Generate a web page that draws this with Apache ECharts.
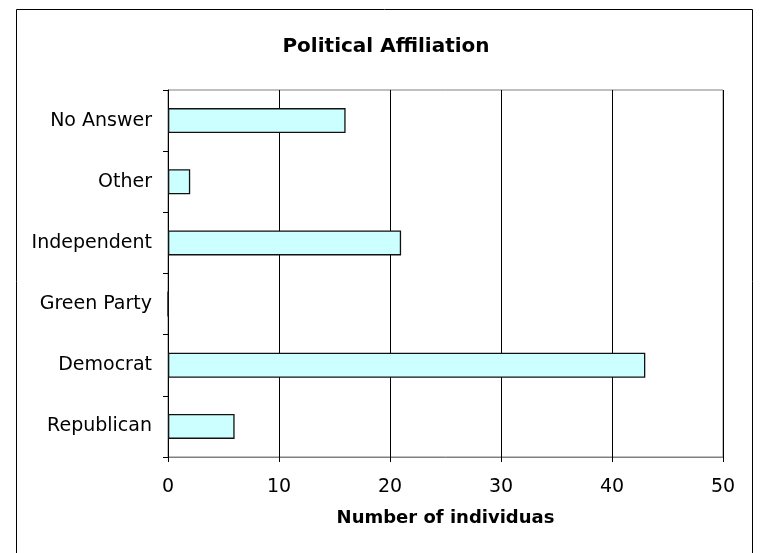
<!DOCTYPE html>
<html><head><meta charset="utf-8">
<script src="https://cdn.jsdelivr.net/npm/echarts@6/dist/echarts.min.js"></script>
<style>html,body{margin:0;padding:0;background:#fff}#c{width:761px;height:553px}</style>
</head><body><div id="c"></div>
<script>
const categories = ["Republican","Democrat","Green Party","Independent","Other","No Answer"];
const values = [6,43,0,21,2,16];
const xTicks = {min:0,max:50,interval:10};
const titleText = "Political Affiliation";
const xAxisName = "Number of individuas";

const chart = echarts.init(document.getElementById('c'), null, {renderer:'canvas'});
const font = '"DejaVu Sans", sans-serif';
chart.setOption({
  animation:false,
  backgroundColor:'#fff',
  title:{text:titleText,left:381,textAlign:'center',top:32,
    textStyle:{fontFamily:font,fontSize:20,fontWeight:'bold',color:'#000'}},
  graphic:[{type:'rect',shape:{x:16.5,y:9.5,width:736,height:600},
    style:{fill:'none',stroke:'#000',lineWidth:1},silent:true,z:-1}],
  grid:{left:168,top:90,right:38,bottom:96,show:true,borderColor:'#808080',borderWidth:1,backgroundColor:'transparent'},
  xAxis:{type:'value',min:xTicks.min,max:xTicks.max,interval:xTicks.interval,
    name:xAxisName,nameLocation:'middle',nameGap:52,
    nameTextStyle:{fontFamily:font,fontSize:18,fontWeight:'bold',color:'#000'},
    axisLine:{show:true,lineStyle:{color:'#808080',width:1}},
    axisTick:{show:true,length:5,lineStyle:{color:'#000'}},
    axisLabel:{fontFamily:font,fontSize:19,color:'#000',margin:21},
    splitLine:{show:true,lineStyle:{color:'#000',width:1}}},
  yAxis:{type:'category',data:categories,
    axisLine:{show:true,lineStyle:{color:'#000',width:1}},
    axisTick:{show:true,length:5,alignWithLabel:false,lineStyle:{color:'#000'}},
    axisLabel:{fontFamily:font,fontSize:19,color:'#000',margin:16},
    splitLine:{show:false}},
  series:[{type:'bar',data:values,barWidth:25,
    itemStyle:{color:'#CCFFFF',borderColor:'#111',borderWidth:1.3}}]
});
</script></body></html>
